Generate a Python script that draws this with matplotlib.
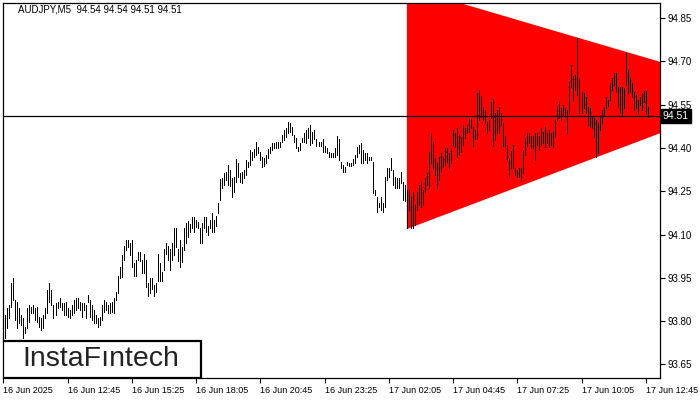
import numpy as np
import matplotlib
matplotlib.use("Agg")
import matplotlib.pyplot as plt
from matplotlib.patches import Rectangle
from matplotlib.transforms import blended_transform_factory

plt.rcParams["font.family"] = ["Liberation Sans", "DejaVu Sans"]

# AUDJPY M5 bars, 16 Jun 10:05 onwards (high / low per bar)
highs = [
    93.779, 93.821, 93.845, 93.856, 93.932, 93.949, 93.873, 93.866, 93.845, 93.821,
    93.811, 93.779, 93.845, 93.856, 93.849, 93.856, 93.845, 93.849, 93.814, 93.811,
    93.821, 93.845, 93.908, 93.932, 93.908, 93.856, 93.863, 93.866, 93.880, 93.863,
    93.863, 93.866, 93.845, 93.838, 93.856, 93.873, 93.880, 93.880, 93.866, 93.863,
    93.863, 93.856, 93.890, 93.873, 93.856, 93.838, 93.821, 93.811, 93.814, 93.856,
    93.873, 93.866, 93.856, 93.863, 93.866, 93.880,
    93.901, 93.956, 93.988, 94.030, 94.060, 94.081, 94.081, 94.070, 94.081, 94.001,
    94.011, 94.039, 94.039, 94.011, 94.032, 94.011, 93.932, 93.949, 93.949, 93.925,
    93.932, 94.032, 94.001, 93.970, 94.049, 94.070, 94.060, 94.049, 94.070, 94.122,
    94.122, 94.049, 94.081, 94.056, 94.122, 94.140, 94.147, 94.136, 94.160, 94.160,
    94.150, 94.143, 94.122, 94.140, 94.160, 94.160, 94.129, 94.150, 94.174, 94.150,
    94.164, 94.209, 94.292, 94.296, 94.313, 94.316, 94.340, 94.323, 94.296, 94.299,
    94.361, 94.348, 94.313, 94.316, 94.323, 94.358, 94.351, 94.392, 94.385, 94.396,
    94.420, 94.403, 94.385, 94.368, 94.365, 94.375, 94.396, 94.403, 94.417, 94.417,
    94.420, 94.420, 94.420, 94.444, 94.462, 94.469, 94.489, 94.486, 94.472, 94.444,
    94.434, 94.403, 94.417, 94.434, 94.451, 94.462, 94.469, 94.479, 94.455,
    94.462, 94.431, 94.420, 94.420, 94.431, 94.406, 94.399, 94.385, 94.382, 94.382,
    94.399, 94.441, 94.431, 94.351, 94.340, 94.333, 94.351, 94.347, 94.347, 94.361,
    94.375, 94.403, 94.410, 94.417, 94.392, 94.382, 94.382, 94.368, 94.368, 94.351,
    94.254, 94.230, 94.209, 94.230, 94.209, 94.299, 94.330, 94.330, 94.365, 94.323,
    94.299, 94.296, 94.296, 94.316, 94.282, 94.271, 94.254, 94.254, 94.230, 94.247,
    94.202, 94.247, 94.271, 94.282, 94.254,
    94.295, 94.313, 94.385, 94.451, 94.420, 94.365, 94.347, 94.368, 94.382, 94.368,
    94.399, 94.399, 94.382, 94.399, 94.462, 94.451, 94.469, 94.444, 94.437, 94.479,
    94.469, 94.479, 94.500, 94.500, 94.472, 94.462, 94.590, 94.600, 94.580, 94.541,
    94.531, 94.489, 94.496, 94.559, 94.569, 94.521, 94.531, 94.541, 94.521, 94.486,
    94.441, 94.410, 94.361, 94.389, 94.410, 94.330, 94.323, 94.330, 94.330, 94.389,
    94.431, 94.451, 94.451, 94.441, 94.441, 94.451, 94.451, 94.441,
    94.469, 94.455, 94.472, 94.451, 94.462, 94.451, 94.455, 94.496, 94.541, 94.559,
    94.538, 94.548, 94.538, 94.531, 94.628, 94.687, 94.649, 94.652, 94.780, 94.642,
    94.593, 94.590, 94.576, 94.541, 94.538, 94.507, 94.503, 94.496, 94.486, 94.514,
    94.531, 94.541, 94.576, 94.566, 94.624, 94.642, 94.659, 94.659, 94.611, 94.611,
    94.611, 94.607, 94.728, 94.670, 94.642, 94.624, 94.593, 94.583, 94.566, 94.576,
    94.590, 94.597, 94.597, 94.541,
]
lows = [
    93.745, 93.741, 93.776, 93.811, 93.849, 93.873, 93.804, 93.776, 93.793, 93.786,
    93.741, 93.759, 93.776, 93.797, 93.828, 93.828, 93.804, 93.797, 93.779, 93.769,
    93.776, 93.811, 93.828, 93.866, 93.856, 93.811, 93.821, 93.845, 93.849, 93.838,
    93.821, 93.821, 93.814, 93.811, 93.821, 93.828, 93.838, 93.845, 93.838, 93.814,
    93.838, 93.811, 93.866, 93.814, 93.804, 93.793, 93.793, 93.779, 93.786, 93.804,
    93.831, 93.838, 93.828, 93.828, 93.831, 93.828,
    93.873, 93.897, 93.949, 93.953, 94.011, 94.046, 94.056, 94.030, 93.987, 93.956,
    93.956, 94.011, 94.008, 93.966, 93.966, 93.918, 93.887, 93.897, 93.911, 93.887,
    93.901, 93.939, 93.939, 93.939, 93.977, 94.032, 94.011, 93.977, 94.011, 94.030,
    94.056, 94.008, 93.987, 94.004, 94.046, 94.070, 94.091, 94.108, 94.122, 94.108,
    94.126, 94.122, 94.070, 94.070, 94.122, 94.108, 94.098, 94.122, 94.108, 94.108,
    94.129, 94.174, 94.219, 94.261, 94.271, 94.289, 94.271, 94.268, 94.230, 94.247,
    94.282, 94.299, 94.282, 94.278, 94.296, 94.306, 94.333, 94.340, 94.358, 94.368,
    94.375, 94.382, 94.358, 94.333, 94.337, 94.347, 94.365, 94.382, 94.392, 94.399,
    94.399, 94.399, 94.403, 94.420, 94.427, 94.437, 94.451, 94.455, 94.444, 94.420,
    94.399, 94.389, 94.392, 94.420, 94.420, 94.417, 94.434, 94.410, 94.417,
    94.431, 94.406, 94.406, 94.406, 94.385, 94.385, 94.382, 94.368, 94.368, 94.368,
    94.368, 94.375, 94.358, 94.330, 94.316, 94.316, 94.340, 94.337, 94.337, 94.340,
    94.347, 94.368, 94.382, 94.347, 94.347, 94.358, 94.347, 94.358, 94.358, 94.243,
    94.237, 94.178, 94.195, 94.185, 94.178, 94.195, 94.289, 94.299, 94.323, 94.271,
    94.261, 94.261, 94.261, 94.278, 94.219, 94.216, 94.122, 94.185, 94.122, 94.122,
    94.133, 94.185, 94.202, 94.195, 94.202,
    94.247, 94.271, 94.261, 94.347, 94.330, 94.306, 94.261, 94.289, 94.316, 94.333,
    94.340, 94.351, 94.330, 94.347, 94.410, 94.403, 94.368, 94.375, 94.385, 94.410,
    94.434, 94.451, 94.455, 94.469, 94.406, 94.431, 94.431, 94.496, 94.507, 94.496,
    94.486, 94.451, 94.462, 94.503, 94.406, 94.427, 94.451, 94.451, 94.479, 94.406,
    94.406, 94.358, 94.299, 94.330, 94.330, 94.306, 94.299, 94.299, 94.289, 94.313,
    94.375, 94.406, 94.417, 94.399, 94.399, 94.358, 94.410, 94.392,
    94.410, 94.417, 94.403, 94.417, 94.403, 94.410, 94.403, 94.437, 94.496, 94.503,
    94.496, 94.514, 94.507, 94.451, 94.521, 94.611, 94.566, 94.600, 94.583, 94.521,
    94.521, 94.538, 94.521, 94.479, 94.472, 94.469, 94.437, 94.368, 94.382, 94.462,
    94.486, 94.514, 94.538, 94.545, 94.566, 94.600, 94.618, 94.593, 94.541, 94.521,
    94.514, 94.538, 94.618, 94.590, 94.593, 94.576, 94.531, 94.538, 94.521, 94.548,
    94.531, 94.559, 94.521, 94.507,
]

# triangle pattern anchors (bar index, price)
tri_bars = [201, 201, 380]
tri_prices = [94.956, 94.119, 94.590]

last_price = 94.51
header = "AUDJPY,M5  94.54 94.54 94.51 94.51"

price_ticks = [93.65, 93.80, 93.95, 94.10, 94.25, 94.40, 94.55, 94.70, 94.85]
time_tick_bars = [0, 32, 64, 96, 128, 160, 192, 224, 256, 288, 320]
time_labels = [
    "16 Jun 2025", "16 Jun 12:45", "16 Jun 15:25", "16 Jun 18:05",
    "16 Jun 20:45", "16 Jun 23:25", "17 Jun 02:05", "17 Jun 04:45",
    "17 Jun 07:25", "17 Jun 10:05", "17 Jun 12:45",
]

W, H = 700, 400
fig = plt.figure(figsize=(W / 100, H / 100), dpi=100)
ax = fig.add_axes([2.7 / W, 1 - 378 / H, (660 - 2.7) / W, (378 - 2.7) / H])

ax.fill(tri_bars, tri_prices, color="#ff0000", lw=0, zorder=1)

bar_idx = np.arange(len(highs))
ax.vlines(bar_idx, lows, highs, color="black", lw=0.72, zorder=3,
          antialiased=False)
ax.axhline(last_price, color="black", lw=0.9, zorder=4)

ax.set_xlim(-0.3, 327.1)
ax.set_ylim(93.603, 94.903)

ax.yaxis.tick_right()
ax.set_yticks(price_ticks)
ax.set_yticklabels([f"{p:.2f}" for p in price_ticks])
ax.set_xticks(time_tick_bars)
ax.set_xticklabels(time_labels, ha="left")
ax.tick_params(axis="both", direction="out", length=3.5, width=0.8,
               labelsize=7, colors="black", pad=2)
ax.tick_params(axis="x", labelsize=6.5)
for s in ax.spines.values():
    s.set_linewidth(0.9)
    s.set_color("black")

# current price tag on the scale
trans = blended_transform_factory(ax.transAxes, ax.transData)
ax.text(1.004, last_price, f"{last_price:.2f}", transform=trans, ha="left",
        va="center", fontsize=7.5, color="white", clip_on=False, zorder=6,
        bbox=dict(boxstyle="square,pad=0.2", fc="black", ec="black"))

fig.text(18 / W, 1 - 10 / H, header, ha="left", va="center", fontsize=7)

# logo box
ax.add_patch(Rectangle((0, 0), 0.3017, 0.0994, transform=ax.transAxes,
                       fc="white", ec="black", lw=1.6, zorder=7))
ax.text(0.150, 0.050, "InstaF\u0131ntech", transform=ax.transAxes,
        ha="center", va="center", fontsize=20.5, color="#222222", zorder=8)

fig.savefig("out.png", dpi=100)
